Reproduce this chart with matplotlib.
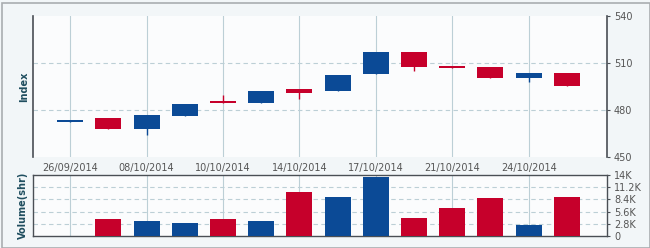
import numpy as np
import matplotlib
matplotlib.use("Agg")
import matplotlib.pyplot as plt
from matplotlib.patches import Rectangle

# daily candles (index) and volume
opens  = [472.6, 474.9, 468.1, 476.2, 485.8, 484.7, 493.2, 492.3, 503.2, 517.0, 508.1, 507.5, 500.6, 503.6]
closes = [473.0, 468.1, 476.8, 483.8, 484.5, 492.3, 491.1, 502.3, 517.0, 507.6, 506.8, 500.6, 503.6, 495.5]
highs  = [473.0, 474.9, 476.8, 483.8, 489.6, 492.3, 493.2, 502.3, 517.0, 517.0, 508.1, 507.5, 503.6, 503.6]
lows   = [472.6, 468.1, 464.3, 476.2, 484.5, 484.7, 487.0, 492.3, 503.2, 505.1, 506.8, 500.6, 497.7, 495.5]
volume = [0.0, 3.9, 3.4, 3.0, 3.9, 3.4, 10.2, 8.9, 13.5, 4.1, 6.4, 8.7, 2.5, 8.9]  # thousands

date_labels = ["26/09/2014", "08/10/2014", "10/10/2014", "14/10/2014",
               "17/10/2014", "21/10/2014", "24/10/2014"]
label_pos = [0, 2, 4, 6, 8, 10, 12]

price_ticks = [450, 480, 510, 540]
vol_ticks = [0, 2.8, 5.6, 8.4, 11.2, 14]
vol_tick_labels = ["0", "2.8K", "5.6K", "8.4K", "11.2K", "14K"]

BLUE = "#0b4a96"
RED = "#c6002b"
GRID = "#bccfd6"
TXT = "#555555"
SPINE = "#4a4f55"

fig = plt.figure(figsize=(6.5, 2.48), dpi=100, facecolor="#f2f6f8")
fig.patches.append(Rectangle((0.003, 0.0), 0.997, 0.988, transform=fig.transFigure,
                             fill=False, edgecolor="#a9adb0", linewidth=1.2))

ax = fig.add_axes([0.0508, 0.367, 0.883, 0.5685])
axv = fig.add_axes([0.0508, 0.0484, 0.883, 0.246])

x = np.arange(len(opens))
o = np.array(opens)
c = np.array(closes)
up = c >= o
cols = [BLUE if u else RED for u in up]
w = 0.68

for a in (ax, axv):
    a.set_facecolor("#fbfcfd")
    a.set_xlim(-0.97, 14.05)
    for p in label_pos:
        a.axvline(p, color=GRID, linewidth=0.8, zorder=0)

# candles
ax.vlines(x, lows, highs, colors=cols, linewidth=1, zorder=2)
body = np.maximum(np.abs(c - o), 0.9)
ax.bar(x, body, bottom=np.minimum(o, c), width=w, color=cols, zorder=3)

ax.set_ylim(450, 540)
ax.set_yticks(price_ticks)
ax.yaxis.tick_right()
for v in (480, 510):
    ax.axhline(v, color=GRID, linestyle=(0, (4, 3)), linewidth=0.8, zorder=0)
ax.set_xticks(label_pos)
ax.set_xticklabels(date_labels)
ax.tick_params(axis="x", length=0, pad=4, labelsize=7, labelcolor=TXT)
ax.tick_params(axis="y", length=2, pad=3, labelsize=7, labelcolor=TXT, color=SPINE)
for s in ("top", "bottom"):
    ax.spines[s].set_visible(False)
for s in ("left", "right"):
    ax.spines[s].set_color(SPINE)
    ax.spines[s].set_linewidth(1.2)
ax.set_ylabel("Index", fontsize=7, fontweight="bold", color="#1f4e5f", labelpad=3)

# volume
axv.bar(x, volume, width=w, color=cols, zorder=3)
axv.set_ylim(0, 14)
axv.set_yticks(vol_ticks)
axv.set_yticklabels(vol_tick_labels)
axv.yaxis.tick_right()
for v in vol_ticks[1:-1]:
    axv.axhline(v, color=GRID, linestyle=(0, (4, 3)), linewidth=0.8, zorder=0)
axv.set_xticks([])
axv.tick_params(axis="y", length=2, pad=3, labelsize=7, labelcolor=TXT, color=SPINE)
for s in axv.spines.values():
    s.set_color(SPINE)
    s.set_linewidth(1.0)
axv.set_ylabel("Volume(shr)", fontsize=7, fontweight="bold", color="#1f4e5f", labelpad=4)

fig.savefig("out.png", dpi=100, facecolor=fig.get_facecolor())
